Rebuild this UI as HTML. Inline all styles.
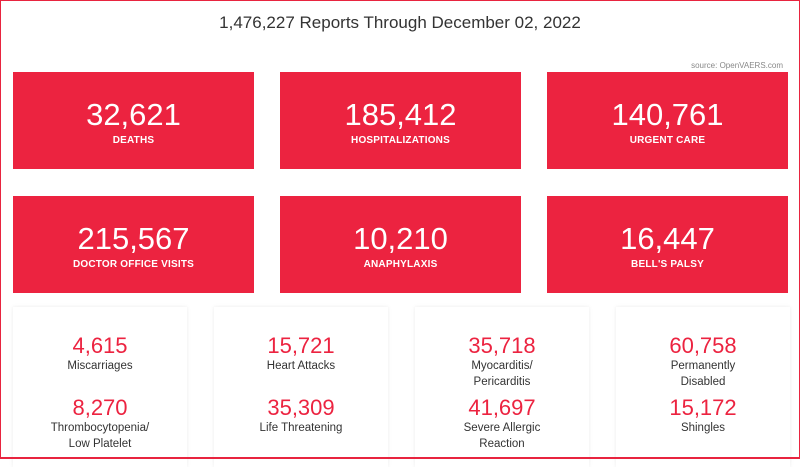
<!DOCTYPE html>
<html><head><meta charset="utf-8"><style>
*{margin:0;padding:0;box-sizing:border-box}
body{width:800px;height:459px;overflow:hidden;background:#fff;font-family:"Liberation Sans",sans-serif;position:relative}
.frame{position:absolute;left:0;top:0;width:800px;height:459px;border:1px solid #e8243f;border-bottom:2px solid #e8243f;z-index:5}
.title{position:absolute;top:13px;left:0;width:800px;text-align:center;font-size:17px;color:#333}
.src{position:absolute;top:61px;right:17px;font-size:8px;color:#888}
.box{position:absolute;width:241px;height:97px;background:#ec2340;color:#fff;text-align:center}
.box .n{font-size:31px;margin-top:27px;line-height:32px}
.box .l{font-size:10px;margin-top:4px;font-weight:bold;letter-spacing:0.2px}
.card{position:absolute;top:307px;width:174px;height:160px;background:#fff;box-shadow:0 0 4px rgba(0,0,0,0.08);text-align:center}
.card .n{font-size:22px;color:#ec2340;line-height:24px}
.card .l{font-size:11.5px;color:#333;line-height:16px}
.a{position:absolute;top:27px;left:0;width:100%}
.b{position:absolute;top:89px;left:0;width:100%}
</style></head><body>
<div class="frame"></div>
<div class="title">1,476,227 Reports Through December 02, 2022</div>
<div class="src">source: OpenVAERS.com</div>
<div class="box" style="left:13px;top:72px"><div class="n">32,621</div><div class="l">DEATHS</div></div>
<div class="box" style="left:280px;top:72px"><div class="n">185,412</div><div class="l">HOSPITALIZATIONS</div></div>
<div class="box" style="left:547px;top:72px"><div class="n">140,761</div><div class="l">URGENT CARE</div></div>
<div class="box" style="left:13px;top:196px"><div class="n">215,567</div><div class="l">DOCTOR OFFICE VISITS</div></div>
<div class="box" style="left:280px;top:196px"><div class="n">10,210</div><div class="l">ANAPHYLAXIS</div></div>
<div class="box" style="left:547px;top:196px"><div class="n">16,447</div><div class="l">BELL'S PALSY</div></div>
<div class="card" style="left:13px"><div class="a"><div class="n">4,615</div><div class="l">Miscarriages</div></div><div class="b"><div class="n">8,270</div><div class="l">Thrombocytopenia/<br>Low Platelet</div></div></div>
<div class="card" style="left:214px"><div class="a"><div class="n">15,721</div><div class="l">Heart Attacks</div></div><div class="b"><div class="n">35,309</div><div class="l">Life Threatening</div></div></div>
<div class="card" style="left:415px"><div class="a"><div class="n">35,718</div><div class="l">Myocarditis/<br>Pericarditis</div></div><div class="b"><div class="n">41,697</div><div class="l">Severe Allergic<br>Reaction</div></div></div>
<div class="card" style="left:616px"><div class="a"><div class="n">60,758</div><div class="l">Permanently<br>Disabled</div></div><div class="b"><div class="n">15,172</div><div class="l">Shingles</div></div></div>
</body></html>
